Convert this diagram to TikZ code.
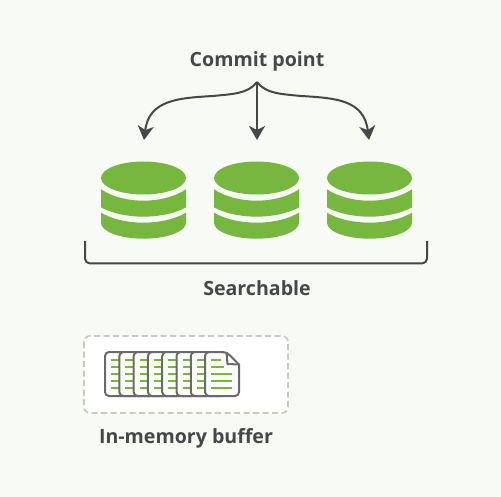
\documentclass[tikz,border=0pt]{standalone}
\usepackage{fontspec}
\setmainfont{Open Sans}
\usetikzlibrary{arrows.meta}
\definecolor{esBack}{RGB}{248,250,245}
\definecolor{esGreen}{RGB}{118,183,61}
\definecolor{esDark}{RGB}{70,72,72}
\definecolor{esGrey}{RGB}{105,105,105}
\definecolor{esDash}{RGB}{200,200,200}
\tikzset{
  caption/.style={font=\fontsize{19.6}{22}\selectfont\bfseries,text=esDark,inner sep=0pt},
  commitarrow/.style={draw=esDark,line width=2pt,-{Stealth[length=14pt,width=16pt,inset=4pt]}},
  textline/.style={draw=esGreen,line width=1.8pt},
  segment/.pic={
    \fill[esGreen] (0,0) ellipse[x radius=42.5,y radius=16.5];
    \fill[esGreen] (-42.5,11.3) .. controls (-20,26.5) and (20,26.5) .. (42.5,11.3)
      -- (42.5,29.3) .. controls (20,41.8) and (-20,41.8) .. (-42.5,29.3) -- cycle;
    \fill[esGreen] (-42.5,34.7) .. controls (-20,48) and (20,48) .. (42.5,34.7)
      -- (42.5,44.7) .. controls (42.5,53.5) and (23.5,60.7) .. (0,60.7)
      .. controls (-23.5,60.7) and (-42.5,53.5) .. (-42.5,44.7) -- cycle;
  }
}
\begin{document}
\begin{tikzpicture}[x=1pt,y=-1pt]
  \useasboundingbox (0,0) rectangle (501,497);
  \fill[esBack] (0,0) rectangle (501,497);
  \node[caption] (commit) at (257,61) {Commit point};
  \coordinate (fork) at (257,82);
  \coordinate (segA) at (144,140);
  \coordinate (segB) at (257,140);
  \coordinate (segC) at (369,140);
  \draw[commitarrow] (fork) .. controls (248,94) and (232,94) .. (213,96)
    .. controls (178,98) and (149,100) .. (segA);
  \draw[commitarrow] (fork) -- (segB);
  \draw[commitarrow] (fork) .. controls (266,94) and (282,94) .. (301,96)
    .. controls (336,98) and (364,100) .. (segC);
  \foreach \x in {143.5,256.5,369.5}
    \pic at (\x,178) {segment};
  \draw[esDark,line width=2pt,rounded corners=5pt] (85,241) -- (85,263.5) -- (427,263.5) -- (427,241);
  \node[caption] (searchable) at (257,288) {Searchable};
  \draw[esDash,fill=white,line width=1.8pt,dash pattern=on 6pt off 3.5pt,rounded corners=6pt]
    (84,336) rectangle (288,413);
  \foreach \x in {105,119.3,133.6,147.9,162.2,176.5,190.8} {
    \filldraw[fill=white,draw=esGrey,line width=2pt,rounded corners=4pt]
      (\x,352) rectangle (\x+34,396);
    \foreach \y in {360,367,374,381,388}
      \draw[textline] (\x+6,\y) -- (\x+14.3,\y);
  }
  % front page with the folded corner
  \filldraw[fill=white,draw=esGrey,line width=2pt,rounded corners=4pt]
    (205,396) -- (205,352) -- (226.5,352) [sharp corners] -- (239,364.5) [rounded corners=4pt] -- (239,396) -- cycle;
  \draw[esGrey,line width=2pt,line join=round] (226.5,352) -- (227.5,364) -- (239,364.5);
  \draw[textline] (211,360) -- (221,360);
  \draw[textline] (211,367) -- (224,367);
  \foreach \y in {374,381,388}
    \draw[textline] (211,\y) -- (232,\y);
  \node[caption] (buffer) at (186,438) {In-memory buffer};
\end{tikzpicture}
\end{document}
